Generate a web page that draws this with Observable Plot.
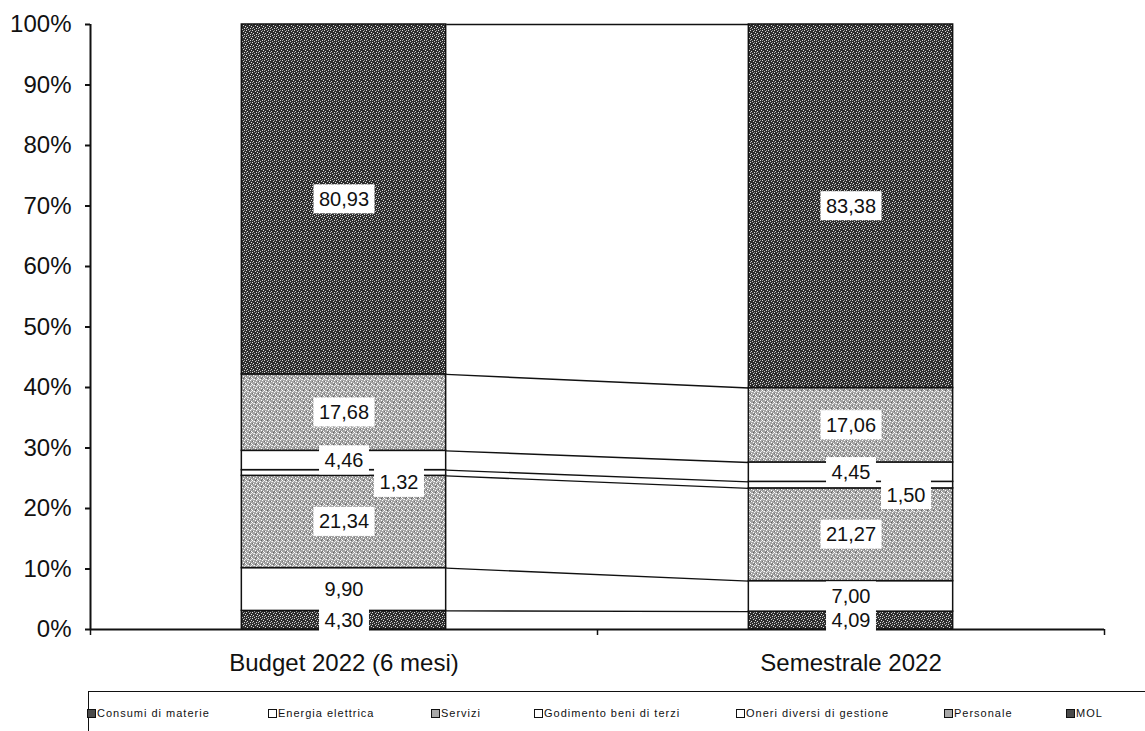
<!DOCTYPE html>
<html>
<head>
<meta charset="utf-8">
<script src="https://cdn.jsdelivr.net/npm/d3@7"></script>
<script src="https://cdn.jsdelivr.net/npm/@observablehq/plot@0.6"></script>
<style>
  html, body { margin: 0; padding: 0; background: #fff; }
  #wrap { position: relative; width: 1145px; height: 731px; overflow: hidden; font-family: "Liberation Sans", Arial, sans-serif; }
  #legend { position: absolute; left: 88px; top: 691px; width: 1060px; height: 45px; border-top: 1.5px solid #111; border-left: 1.5px solid #111; }
  .item { position: absolute; top: 15px; font-size: 11px; letter-spacing: 1px; color: #111; white-space: nowrap; display: flex; align-items: center; }
  .sw { width: 7px; height: 7px; border: 1px solid #111; margin-right: 1px; display: inline-block; }
</style>
</head>
<body>
<div id="wrap"><div id="chart"></div><div id="legend"></div></div>
<script>
// ---- data ----
const categories = ["Budget 2022 (6 mesi)", "Semestrale 2022"];
const series = ["Consumi di materie", "Energia elettrica", "Servizi", "Godimento beni di terzi", "Oneri diversi di gestione", "Personale", "MOL"];
const budget = [4.30, 9.90, 21.34, 1.32, 4.46, 17.68, 80.93];
const semestrale = [4.09, 7.00, 21.27, 1.50, 4.45, 17.06, 83.38];
const yTicks = [0, 0.1, 0.2, 0.3, 0.4, 0.5, 0.6, 0.7, 0.8, 0.9, 1];

// ---- styles (not data) ----
const seriesFill = ["url(#pdark)", "#ffffff", "url(#plight)", "#ffffff", "#ffffff", "url(#plight)", "url(#pdark)"];
const legendSwatch = ["#4a4a4a", "#ffffff", "#a8a8a8", "#ffffff", "#ffffff", "#a8a8a8", "#4a4a4a"];
const legendX = [86, 267, 430, 533, 735, 943, 1065];
const halfW = 0.2015;
const smallIdx = 3; // label shifted aside for thin segment

const fmt = v => v.toFixed(2).replace(".", ",");

function stackOf(vals, ci) {
  const tot = d3.sum(vals);
  let c = 0;
  return vals.map((v, si) => {
    const y1 = c / tot; c += v; const y2 = c / tot;
    return {ci, si, v, y1, y2, mid: (y1 + y2) / 2, fill: seriesFill[si]};
  });
}
const sb = stackOf(budget, 0);
const ss = stackOf(semestrale, 1);
const rows = sb.concat(ss);
const links = series.map((s, si) => ({si, y1: sb[si].y2, y2: ss[si].y2}));

const plot = Plot.plot({
  width: 1145,
  height: 692,
  marginTop: 24,
  marginBottom: 63,
  marginLeft: 90,
  marginRight: 41,
  style: {fontFamily: "'Liberation Sans', Arial, sans-serif", fontSize: "24px", color: "#111", background: "transparent"},
  x: {domain: [-0.5, 1.5], label: null},
  y: {domain: [0, 1], label: null},
  color: {type: "identity"},
  marks: [
    Plot.rect(rows, {x1: d => d.ci - halfW, x2: d => d.ci + halfW, y1: "y1", y2: "y2", fill: "fill", stroke: "#111", strokeWidth: 1.5}),
    Plot.link(links, {x1: () => halfW, x2: () => 1 - halfW, y1: "y1", y2: "y2", stroke: "#111", strokeWidth: 1.4}),
    Plot.ruleX([-0.5], {y1: 0, y2: 1, stroke: "#111", strokeWidth: 2}),
    Plot.ruleY([0], {x1: -0.5, x2: 1.5, stroke: "#111", strokeWidth: 2}),
    Plot.axisY({ticks: yTicks, tickFormat: d3.format(".0%"), tickSize: 5, tickPadding: 14, strokeWidth: 2, fontSize: 24, label: null}),
    Plot.axisX({ticks: [-0.5, 0.5, 1.5], tickFormat: () => "", tickSize: 6, strokeWidth: 1.5, label: null}),
    Plot.axisX({ticks: [0, 1], tickFormat: i => categories[i], tickSize: 0, tickPadding: 24, fontSize: 24, label: null}),
    Plot.text(rows.filter(d => d.si !== smallIdx), {x: "ci", y: "mid", text: d => fmt(d.v), fontSize: 20, fill: "#111"}),
    Plot.text(rows.filter(d => d.si === smallIdx), {x: "ci", y: "mid", text: d => fmt(d.v), fontSize: 20, fill: "#111", dx: 55, dy: 10})
  ]
});

document.getElementById("chart").appendChild(plot);

// patterns
const svg = d3.select(plot);
const defs = svg.insert("defs", ":first-child");
function pattern(id, base, dots) {
  const p = defs.append("pattern").attr("id", id).attr("width", 6).attr("height", 6).attr("patternUnits", "userSpaceOnUse");
  p.append("rect").attr("width", 6).attr("height", 6).attr("fill", base);
  dots.forEach(([x, y, c]) => p.append("rect").attr("x", x).attr("y", y).attr("width", 1).attr("height", 1).attr("fill", c));
}
pattern("pdark", "#2e2e2e", [[0,0,"#e0e0e0"],[3,1,"#d0d0d0"],[5,2,"#e0e0e0"],[1,3,"#d8d8d8"],[4,4,"#e0e0e0"],[2,5,"#c8c8c8"],[4,0,"#909090"],[0,4,"#a0a0a0"]]);
pattern("plight", "#a4a4a4", [[0,0,"#ffffff"],[3,0,"#606060"],[2,1,"#ffffff"],[5,1,"#e8e8e8"],[4,2,"#ffffff"],[1,3,"#ffffff"],[3,4,"#ffffff"],[5,5,"#ffffff"],[1,1,"#d8d8d8"],[0,3,"#707070"],[4,5,"#707070"]]);

// white boxes behind data labels
svg.selectAll('g[aria-label="text"] text').each(function() {
  const b = this.getBBox();
  const padX = 5.5, h = 29;
  const cy = b.y + b.height / 2;
  d3.select(this.parentNode).insert("rect", () => this)
    .attr("x", b.x - padX).attr("y", cy - h / 2)
    .attr("width", b.width + 2 * padX).attr("height", h)
    .attr("fill", "#fff")
    .attr("transform", this.getAttribute("transform"));
});

// legend
const lg = d3.select("#legend");
series.forEach((s, i) => {
  const it = lg.append("div").attr("class", "item").style("left", (legendX[i] - 88) + "px");
  it.append("span").attr("class", "sw").style("background", legendSwatch[i]);
  it.append("span").text(s);
});
</script>
</body>
</html>
